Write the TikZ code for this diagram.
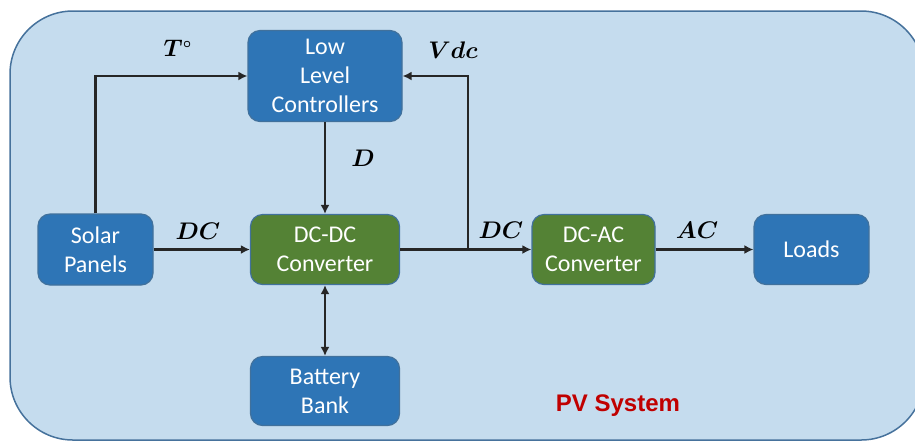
\documentclass[tikz,border=0pt]{standalone}
\usepackage{fontspec}
\usepackage{amsmath}
\usepackage{bm}
\setmainfont{Carlito}
\newfontfamily\titlefont{Liberation Sans}
\usetikzlibrary{arrows.meta,positioning}
\definecolor{systemblue}{RGB}{197,220,238}
\definecolor{systemedge}{RGB}{70,114,156}
\definecolor{unitblue}{RGB}{46,117,182}
\definecolor{unitgreen}{RGB}{84,130,53}
\definecolor{unitedge}{RGB}{65,113,156}
\definecolor{pvred}{RGB}{192,0,0}

\begin{document}
\begin{tikzpicture}[
  x=0.5pt,y=-0.5pt,
  arrow/.style={-{Latex[length=4.5pt,width=4.5pt]},line width=1.1pt,draw=black!85},
  twoway/.style={{Latex[length=4.5pt,width=4.5pt]}-{Latex[length=4.5pt,width=4.5pt]},line width=1.1pt,draw=black!85},
  unitbox/.style={draw=unitedge,line width=0.6pt,rounded corners=6pt,align=center,
    text=white,inner sep=2pt,font=\fontsize{12}{14.5}\selectfont},
  bluebox/.style={unitbox,fill=unitblue},
  greenbox/.style={unitbox,fill=unitgreen},
  signal/.style={font=\fontsize{12}{14}\selectfont}
]
\useasboundingbox (0,0) rectangle (915,441);

% PV system frame
\path[fill=systemblue,draw=systemedge,line width=0.75pt,rounded corners=31.5pt]
  (10,11) rectangle (924,440);

% Blocks
\node[bluebox,minimum width=77pt,minimum height=45.5pt] (controllers) at (325,76)
  {Low\\Level\\Controllers};
\node[bluebox,minimum width=57.5pt,minimum height=35.5pt] (solar) at (95.5,249.5)
  {Solar\\Panels};
\node[greenbox,minimum width=74.5pt,minimum height=35pt] (dcdc) at (325,249.5)
  {DC-DC\\Converter};
\node[bluebox,minimum width=74.5pt,minimum height=34.5pt] (battery) at (325,391)
  {Battery\\Bank};
\node[greenbox,minimum width=61.5pt,minimum height=35pt] (dcac) at (593.5,249.5)
  {DC-AC\\Converter};
\node[bluebox,minimum width=57.5pt,minimum height=35pt] (loads) at (811.5,249.5)
  {Loads};

% Connectors
\coordinate (tap) at (468,249.5);
\draw[arrow] (solar.east) -- (dcdc.west);
\draw[arrow] (solar.north) |- (controllers.west);
\draw[arrow] (controllers.south) -- (dcdc.north);
\draw[arrow] (dcdc.east) -- (dcac.west);
\draw[arrow] (tap) |- (controllers.east);
\draw[arrow] (dcac.east) -- (loads.west);
\draw[twoway] (dcdc.south) -- (battery.north);

% Signal labels
\node[signal] (tempLabel) at (178,48) {$\bm{T^{\scriptscriptstyle\circ}}$};
\node[signal] (vdcLabel) at (453,50) {$\bm{Vdc}$};
\node[signal] (dutyLabel) at (363,158) {$\bm{D}$};
\node[signal] (dcInLabel) at (198,231) {$\bm{DC}$};
\node[signal] (dcOutLabel) at (501,230) {$\bm{DC}$};
\node[signal] (acLabel) at (697,230) {$\bm{AC}$};

\node[font=\titlefont\bfseries\fontsize{12}{14}\selectfont,text=pvred] (pvTitle) at (618,406)
  {PV System};
\end{tikzpicture}
\end{document}
